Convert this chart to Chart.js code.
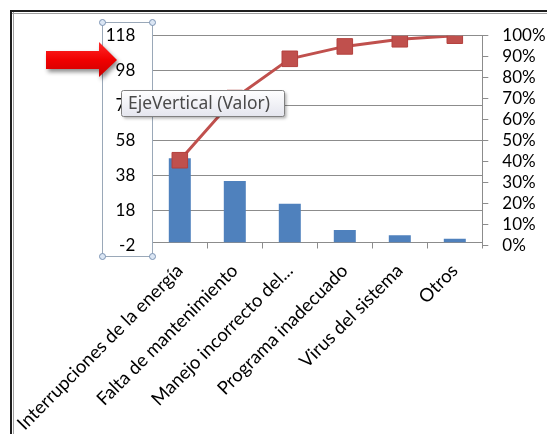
<!DOCTYPE html>
<html>
<head>
<meta charset="utf-8">
<script src="https://cdn.jsdelivr.net/npm/chart.js@4/dist/chart.umd.min.js"></script>
<style>
  html, body { margin: 0; padding: 0; background: #ffffff; }
  canvas { display: block; }
</style>
</head>
<body>
<canvas id="pareto" width="547" height="434"></canvas>
<script>
// Causes of failure, ordered by frequency
const categories = [
  'Interrupciones de la energía',
  'Falta de mantenimiento',
  'Manejo incorrecto del...',
  'Programa inadecuado',
  'Virus del sistema',
  'Otros'
];
const frequency = [48, 35, 22, 7, 4, 2];
const cumulativePct = [40.7, 70.3, 89.0, 94.9, 98.3, 100];
const leftTicks = [-2, 18, 38, 58, 78, 98, 118];
const rightTicks = [0, 10, 20, 30, 40, 50, 60, 70, 80, 90, 100];

const AXIS_GRAY = '#8c8c8c';
const TICK_FONT = { family: 'Lato', size: 17 };

// Axis line at zero, category tick marks, and the sheet decorations
const decorations = {
  id: 'decorations',
  beforeDatasetsDraw(chart) {
    const { ctx, scales: { x, y } } = chart;
    const y0 = Math.round(y.getPixelForValue(0)) + 0.5;
    const step = x.getPixelForValue(1) - x.getPixelForValue(0);
    ctx.save();
    ctx.strokeStyle = AXIS_GRAY;
    ctx.lineWidth = 1;
    ctx.beginPath();
    ctx.moveTo(x.left, y0);
    ctx.lineTo(x.right, y0);
    for (let i = 0; i <= categories.length; i++) {
      const px = Math.round(x.getPixelForValue(0) - step / 2 + i * step) + 0.5;
      ctx.moveTo(px, y0);
      ctx.lineTo(px, y0 + 6);
    }
    ctx.stroke();
    ctx.restore();
  },
  afterDraw(chart) {
    const { ctx } = chart;
    ctx.save();

    // window frame
    ctx.fillStyle = '#1e1e1e';
    ctx.fillRect(10, 10, 537, 2);
    ctx.fillRect(10, 10, 2, 424);
    ctx.fillStyle = '#a0a0a0';
    ctx.fillRect(12, 13, 535, 1);
    ctx.fillRect(13, 12, 1, 422);

    // selection box around the value axis
    ctx.strokeStyle = '#9aa8b8';
    ctx.lineWidth = 1;
    ctx.strokeRect(102.5, 22.5, 50, 234);
    [[102.5, 22.5], [152.5, 22.5], [102.5, 256.5], [152.5, 256.5]].forEach(([hx, hy]) => {
      ctx.beginPath();
      ctx.arc(hx, hy, 3, 0, Math.PI * 2);
      ctx.fillStyle = '#dbe6f4';
      ctx.fill();
      ctx.strokeStyle = '#7b93b3';
      ctx.stroke();
    });

    // red arrow
    ctx.save();
    ctx.shadowColor = 'rgba(0,0,0,0.45)';
    ctx.shadowBlur = 4;
    ctx.shadowOffsetX = 2;
    ctx.shadowOffsetY = 3;
    const g = ctx.createLinearGradient(0, 42, 0, 78);
    g.addColorStop(0, '#ff2a2a');
    g.addColorStop(0.5, '#f00000');
    g.addColorStop(1, '#c80000');
    ctx.fillStyle = g;
    ctx.beginPath();
    ctx.moveTo(46, 51);
    ctx.lineTo(99, 51);
    ctx.lineTo(99, 42);
    ctx.lineTo(117, 60);
    ctx.lineTo(99, 77);
    ctx.lineTo(99, 69);
    ctx.lineTo(46, 69);
    ctx.closePath();
    ctx.fill();
    ctx.restore();

    // hover tip
    ctx.save();
    ctx.shadowColor = 'rgba(0,0,0,0.3)';
    ctx.shadowBlur = 3;
    ctx.shadowOffsetX = 2;
    ctx.shadowOffsetY = 2;
    const tg = ctx.createLinearGradient(0, 90, 0, 117);
    tg.addColorStop(0, '#ffffff');
    tg.addColorStop(1, '#e4e5ee');
    ctx.fillStyle = tg;
    ctx.beginPath();
    ctx.roundRect(121.5, 90.5, 163, 26, 2);
    ctx.fill();
    ctx.restore();
    ctx.strokeStyle = '#808080';
    ctx.lineWidth = 1;
    ctx.beginPath();
    ctx.roundRect(121.5, 90.5, 163, 26, 2);
    ctx.stroke();
    const tipText = 'EjeVertical (Valor)';
    ctx.font = '16px "Noto Sans"';
    const tipSize = 16 * 142 / ctx.measureText(tipText).width;
    ctx.font = tipSize.toFixed(2) + 'px "Noto Sans"';
    ctx.fillStyle = '#4a4a4a';
    ctx.textBaseline = 'middle';
    ctx.textAlign = 'left';
    ctx.fillText(tipText, 128, 104);

    ctx.restore();
  }
};

new Chart(document.getElementById('pareto'), {
  type: 'bar',
  data: {
    labels: categories,
    datasets: [
      {
        type: 'line',
        data: cumulativePct,
        yAxisID: 'y1',
        borderColor: '#c0504d',
        borderWidth: 3,
        pointStyle: 'rect',
        pointRadius: 11,
        pointBackgroundColor: '#c0504d',
        pointBorderColor: '#b4403d',
        pointBorderWidth: 1,
        tension: 0,
        order: 0
      },
      {
        type: 'bar',
        data: frequency,
        yAxisID: 'y',
        backgroundColor: '#4f81bd',
        barPercentage: 0.4,
        categoryPercentage: 1,
        order: 1
      }
    ]
  },
  options: {
    responsive: false,
    animation: false,
    events: [],
    layout: { padding: { top: 35.7, left: 0, right: 0, bottom: 0 } },
    plugins: { legend: { display: false }, tooltip: { enabled: false } },
    scales: {
      x: {
        type: 'category',
        offset: true,
        grid: { display: false },
        border: { display: false },
        ticks: {
          autoSkip: false,
          minRotation: 45,
          maxRotation: 45,
          color: '#000',
          font: { family: 'Lato', size: 18.5 },
          padding: 6
        },
        afterFit(scale) { scale.height = 434 - 245.7; }
      },
      y: {
        position: 'left',
        min: -2,
        max: 118,
        afterBuildTicks(scale) { scale.ticks = leftTicks.map(v => ({ value: v })); },
        grid: {
          color: c => (c.tick && c.tick.value === -2) ? 'rgba(0,0,0,0)' : AXIS_GRAY,
          drawTicks: false
        },
        border: { display: true, color: AXIS_GRAY },
        ticks: { autoSkip: false, padding: 17, color: '#000', font: TICK_FONT },
        afterFit(scale) { scale.width = 152.3; }
      },
      y1: {
        position: 'right',
        min: 0,
        max: 100,
        afterBuildTicks(scale) { scale.ticks = rightTicks.map(v => ({ value: v })); },
        grid: { drawOnChartArea: false, tickLength: 6, color: AXIS_GRAY },
        border: { display: true, color: AXIS_GRAY },
        ticks: { autoSkip: false, padding: 14, color: '#000', font: TICK_FONT, callback: v => v + '%' },
        afterFit(scale) { scale.width = 547 - 482.3; }
      }
    }
  },
  plugins: [decorations]
});
</script>
</body>
</html>
